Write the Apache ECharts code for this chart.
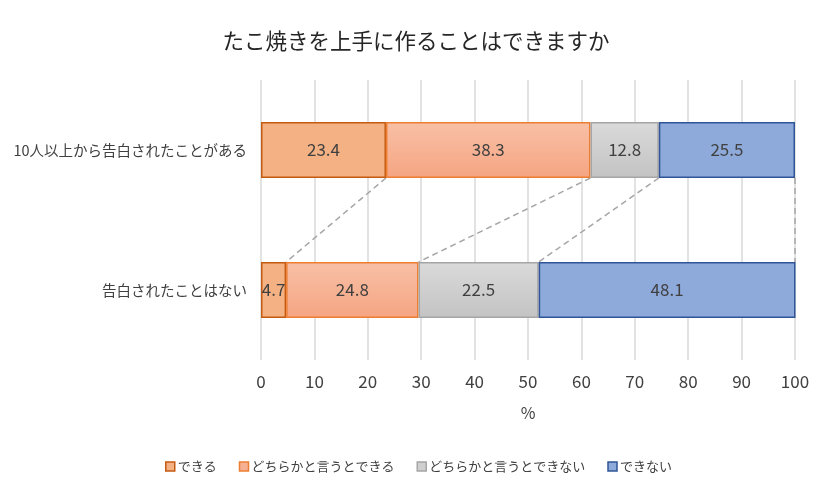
<!DOCTYPE html>
<html>
<head>
<meta charset="utf-8">
<script src="https://cdn.jsdelivr.net/npm/echarts@6/dist/echarts.min.js"></script>
<style>
  html, body { margin: 0; padding: 0; background: #fff; }
  #main { width: 832px; height: 493px; }
</style>
</head>
<body>
<div id="main"></div>
<script>
// カテゴリ（上から順）
var categories = ['10人以上から告白されたことがある', '告白されたことはない'];
var seriesNames = ['できる', 'どちらかと言うとできる', 'どちらかと言うとできない', 'できない'];
// 各回答の割合（%）
var canDo = [23.4, 4.7];
var ratherCan = [38.3, 24.8];
var ratherCannot = [12.8, 22.5];
var cannot = [25.5, 48.1];
var xTicks = [0, 10, 20, 30, 40, 50, 60, 70, 80, 90, 100];

var fontJP = '"Noto Sans CJK JP", "Noto Sans", sans-serif';
var chart = echarts.init(document.getElementById('main'));

function grad(top, bottom) {
    return new echarts.graphic.LinearGradient(0, 0, 0, 1, [
        { offset: 0, color: top },
        { offset: 1, color: bottom }
    ]);
}

var fills = [
    '#f4b183',
    grad('#f8c0a6', '#f5a582'),
    grad('#dadada', '#c3c3c3'),
    '#8eaadb'
];
var borders = ['#c55a11', '#ed7d31', '#a5a5a5', '#2f5597'];
var legendIcons = ['#f4b183', '#f6b094', '#cfcfcf', '#8eaadb'];

// 区分線（系列線）用：各系列の累積値
var allValues = [canDo, ratherCan, ratherCannot, cannot];
var lineData = [];
var cumTop = 0, cumBottom = 0;
for (var i = 0; i < allValues.length; i++) {
    cumTop += allValues[i][0];
    cumBottom += allValues[i][1];
    lineData.push([Math.min(cumTop, 100), Math.min(cumBottom, 100)]);
}

var series = [];
for (var s = 0; s < allValues.length; s++) {
    series.push({
        name: seriesNames[s],
        type: 'bar',
        stack: 'total',
        barWidth: '40%',
        data: allValues[s],
        itemStyle: {
            color: fills[s],
            borderColor: borders[s],
            borderWidth: 1.5
        },
        label: {
            show: true,
            position: 'inside',
            color: '#404040',
            fontSize: 17,
            fontFamily: fontJP,
            formatter: function (p) { return p.value.toFixed(1); }
        },
        emphasis: { disabled: true }
    });
}

series.push({
    name: 'seriesLines',
    type: 'custom',
    silent: true,
    z: 1,
    data: lineData,
    encode: { x: [0, 1] },
    renderItem: function (params, api) {
        var band = api.size([0, 1])[1];
        var half = band * 0.4 / 2;
        var p1 = api.coord([api.value(0), 0]);
        var p2 = api.coord([api.value(1), 1]);
        return {
            type: 'line',
            shape: { x1: p1[0], y1: p1[1] + half, x2: p2[0], y2: p2[1] - half },
            style: { stroke: '#a6a6a6', lineWidth: 1.5, lineDash: [6, 4] }
        };
    }
});

var option = {
    backgroundColor: '#fff',
    animation: false,
    title: {
        text: 'たこ焼きを上手に作ることはできますか',
        left: 'center',
        top: 25,
        textStyle: {
            fontFamily: fontJP,
            fontSize: 21.5,
            fontWeight: 'normal',
            color: '#262626'
        }
    },
    legend: {
        data: seriesNames.map(function (n, k) {
            return {
                name: n,
                itemStyle: { color: legendIcons[k], borderColor: borders[k], borderWidth: 1.5 }
            };
        }),
        left: 160,
        top: 455,
        icon: 'rect',
        itemWidth: 9,
        itemHeight: 9,
        itemGap: 22,
        textStyle: { fontFamily: fontJP, fontSize: 13, color: '#404040', padding: [0, 0, 0, -2] }
    },
    grid: {
        left: 261,
        right: 37,
        top: 80,
        bottom: 133
    },
    xAxis: {
        type: 'value',
        min: 0,
        max: 100,
        interval: 10,
        name: '%',
        nameLocation: 'middle',
        nameGap: 45,
        nameTextStyle: { fontFamily: fontJP, fontSize: 16, color: '#404040' },
        axisLine: { show: false },
        axisTick: { show: false },
        axisLabel: {
            fontFamily: fontJP,
            fontSize: 17,
            color: '#404040',
            margin: 13,
            formatter: function (v) { return xTicks.indexOf(v) >= 0 ? String(v) : ''; }
        },
        splitLine: { show: true, lineStyle: { color: '#d9d9d9', width: 1.5 } }
    },
    yAxis: {
        type: 'category',
        inverse: true,
        data: categories,
        axisLine: { show: false },
        axisTick: { show: false },
        axisLabel: {
            fontFamily: fontJP,
            fontSize: 14.5,
            color: '#404040',
            margin: 14
        }
    },
    series: series
};

chart.setOption(option);
</script>
</body>
</html>
